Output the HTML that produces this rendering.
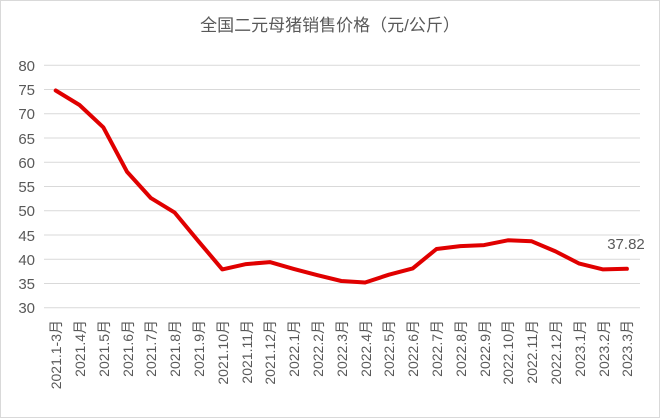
<!DOCTYPE html>
<html><head><meta charset="utf-8"><style>
body{margin:0;background:#fff}
svg{display:block}
text{font-family:"Liberation Sans","Noto Sans CJK SC",sans-serif;fill:#595959}
</style></head><body>
<svg width="660" height="418" viewBox="0 0 660 418">
<rect x="0.5" y="0.5" width="659" height="417" fill="#fff" stroke="#d9d9d9"/>
<text x="330" y="31" text-anchor="middle" font-size="17" fill="#595959">全国二元母猪销售价格（元/公斤）</text>
<g stroke="#d9d9d9" stroke-width="1">
<line x1="44" x2="640" y1="65.3" y2="65.3"/><line x1="44" x2="640" y1="89.5" y2="89.5"/>
<line x1="44" x2="640" y1="113.8" y2="113.8"/><line x1="44" x2="640" y1="138" y2="138"/>
<line x1="44" x2="640" y1="162.3" y2="162.3"/><line x1="44" x2="640" y1="186.5" y2="186.5"/>
<line x1="44" x2="640" y1="210.8" y2="210.8"/><line x1="44" x2="640" y1="235" y2="235"/>
<line x1="44" x2="640" y1="259.3" y2="259.3"/><line x1="44" x2="640" y1="283.5" y2="283.5"/>
<line x1="44" x2="640" y1="307.7" y2="307.7"/>
</g>
<g font-size="15" text-anchor="end">
<text x="35" y="71">80</text><text x="35" y="95">75</text><text x="35" y="119">70</text>
<text x="35" y="144">65</text><text x="35" y="168">60</text><text x="35" y="192">55</text>
<text x="35" y="216">50</text><text x="35" y="241">45</text><text x="35" y="265">40</text>
<text x="35" y="289">35</text><text x="35" y="313">30</text>
</g>
<polyline fill="none" stroke="#e00000" stroke-width="4" stroke-linejoin="round" stroke-linecap="round" points="
55.7,90.5 79.5,105 103.3,127.3 127.1,171.9 150.9,198.1 174.7,212.6 198.5,241.3 222.3,269.4 246.1,264.1 269.9,262.1 293.7,268.9 317.5,275.2 341.3,281 365.1,282.5 388.9,274.7 412.7,268.4 436.5,249 460.3,246.1 484.1,245.1 507.9,240.3 531.7,241.3 555.5,251.4 579.3,263.6 603.1,269.4 626.9,268.8"/>
<text x="626" y="249" text-anchor="middle" font-size="15" fill="#404040">37.82</text>
<g font-size="14" text-anchor="end">
<text transform="translate(61,320) rotate(-90)">2021.1-3月</text>
<text transform="translate(85,320) rotate(-90)">2021.4月</text>
<text transform="translate(109,320) rotate(-90)">2021.5月</text>
<text transform="translate(133,320) rotate(-90)">2021.6月</text>
<text transform="translate(156,320) rotate(-90)">2021.7月</text>
<text transform="translate(180,320) rotate(-90)">2021.8月</text>
<text transform="translate(204,320) rotate(-90)">2021.9月</text>
<text transform="translate(228,320) rotate(-90)">2021.10月</text>
<text transform="translate(252,320) rotate(-90)">2021.11月</text>
<text transform="translate(275,320) rotate(-90)">2021.12月</text>
<text transform="translate(299,320) rotate(-90)">2022.1月</text>
<text transform="translate(323,320) rotate(-90)">2022.2月</text>
<text transform="translate(347,320) rotate(-90)">2022.3月</text>
<text transform="translate(371,320) rotate(-90)">2022.4月</text>
<text transform="translate(394,320) rotate(-90)">2022.5月</text>
<text transform="translate(418,320) rotate(-90)">2022.6月</text>
<text transform="translate(442,320) rotate(-90)">2022.7月</text>
<text transform="translate(466,320) rotate(-90)">2022.8月</text>
<text transform="translate(490,320) rotate(-90)">2022.9月</text>
<text transform="translate(513,320) rotate(-90)">2022.10月</text>
<text transform="translate(537,320) rotate(-90)">2022.11月</text>
<text transform="translate(561,320) rotate(-90)">2022.12月</text>
<text transform="translate(585,320) rotate(-90)">2023.1月</text>
<text transform="translate(609,320) rotate(-90)">2023.2月</text>
<text transform="translate(632,320) rotate(-90)">2023.3月</text>
</g>
</svg>
</body></html>
